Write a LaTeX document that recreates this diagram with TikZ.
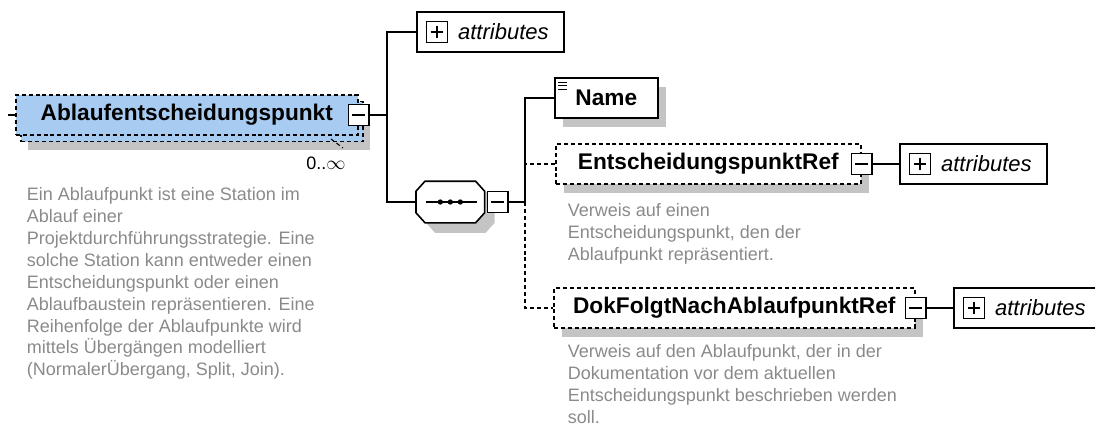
\documentclass[tikz,border=0pt]{standalone}
\usepackage{fontspec}
\setmainfont{Liberation Sans}
\usetikzlibrary{positioning, shadows, calc}
\definecolor{cblue}{HTML}{A8CBF2}
\definecolor{cgrey}{HTML}{8A8A8A}
\definecolor{cshadow}{HTML}{C4C4C4}
\tikzset{
  every picture/.style={line width=1.2pt},
  elem/.style={draw, fill=white, minimum height=30pt, inner sep=0pt, anchor=west,
    font=\fontsize{17}{20}\selectfont\bfseries},
  shadowed/.style={general shadow={fill=cshadow, shadow xshift=#1, shadow yshift=-#1}},
  shadowed/.default=6.5pt,
  optline/.style={dash pattern=on 3pt off 2.2pt},
  attrbox/.style={draw, fill=white, minimum width=110.25pt, minimum height=30pt, anchor=west},
  attrtext/.style={font=\fontsize{16.5}{20}\selectfont\itshape, inner sep=0pt},
  signbox/.style={draw, fill=white, minimum size=15.5pt, inner sep=0pt, line width=1pt},
  minusbox/.style={signbox, path picture={
    \draw[line width=1pt] ([xshift=3pt]path picture bounding box.west) -- ([xshift=-3pt]path picture bounding box.east);}},
  plusbox/.style={signbox, path picture={
    \draw[line width=1pt] ([xshift=3pt]path picture bounding box.west) -- ([xshift=-3pt]path picture bounding box.east);
    \draw[line width=1pt] ([yshift=-3pt]path picture bounding box.north) -- ([yshift=3pt]path picture bounding box.south);}},
  seqbox/.style={minimum width=50.25pt, minimum height=30pt, inner sep=0pt, anchor=west},
  note/.style={font=\fontsize{13.5}{16.4}\selectfont, text=cgrey, align=left, inner sep=0pt, anchor=north west},
}

\begin{document}
\begin{tikzpicture}[x=0.75pt, y=-0.75pt]
  \useasboundingbox (0,0) rectangle (1095,426);
  \clip (0,0) rectangle (1095,426);
  % root element (0..unbounded)
  \node[elem, optline, fill=cblue, minimum width=256.5pt,
    general shadow={fill=cshadow, shadow xshift=9.5pt, shadow yshift=-11pt},
    general shadow={fill=cblue, draw, shadow xshift=4pt, shadow yshift=-5pt}] (root) at (15,115) {Ablaufentscheidungspunkt};
  \node[minusbox] (rmin) at (root.east) {};
  \draw[optline, line width=0.8pt] (331,139) -- (343,148);
  \node[font=\fontsize{13.5}{16}\selectfont, inner sep=0pt] (mult) at (326,163) {0..$\infty$};
  \node[note] (rootdoc) at (26,187) {Ein Ablaufpunkt ist eine Station im\\Ablauf einer\\Projektdurchführungsstrategie. Eine\\solche Station kann entweder einen\\Entscheidungspunkt oder einen\\Ablaufbaustein repräsentieren. Eine\\Reihenfolge der Ablaufpunkte wird\\mittels Übergängen modelliert\\(NormalerÜbergang, Split, Join).};
  \coordinate (rin) at (8,115);
  \coordinate (j1) at (387,115);
  % attributes of root
  \node[attrbox] (attr1) at (416,32) {};
  \node[plusbox] (attr1p) at ([xshift=15.75pt]attr1.west) {};
  \node[attrtext, right=7pt of attr1p] (attr1t) {attributes};
  % sequence
  \node[seqbox] (seq) at (416,202) {};
  \draw[fill=white, shadowed=7.5pt] ([shift={(9,0)}]seq.north west) -- ([shift={(-9,0)}]seq.north east)
    -- ([shift={(0,10)}]seq.north east) -- ([shift={(0,-10)}]seq.south east)
    -- ([shift={(-9,0)}]seq.south east) -- ([shift={(9,0)}]seq.south west)
    -- ([shift={(0,-10)}]seq.south west) -- ([shift={(0,10)}]seq.north west) -- cycle;
  \draw ([xshift=7.5pt]seq.west) -- ([xshift=-6pt]seq.east);
  \foreach \dx in {-7.5pt,0pt,7.5pt}
    \fill ([xshift=\dx]seq.center) circle (2pt);
  \node[minusbox, right=1.5pt of seq] (smin) {};
  \coordinate (j2) at (525,202);
  % children
  \node[elem, shadowed, minimum width=77.25pt] (name) at (554,98) {Name};
  \foreach \dy in {5,8.5,12}
    \draw[line width=0.8pt] ([shift={(4,\dy)}]name.north west) -- ++(9,0);
  \node[elem, optline, shadowed, minimum width=228.75pt] (entsch) at (555,164) {EntscheidungspunktRef};
  \node[minusbox] (emin) at (entsch.east) {};
  \node[note] (entschdoc) at (567,203) {Verweis auf einen\\Entscheidungspunkt, den der\\Ablaufpunkt repräsentiert.};
  \node[attrbox] (attr2) at (899,164) {};
  \node[plusbox] (attr2p) at ([xshift=15.75pt]attr2.west) {};
  \node[attrtext, right=7pt of attr2p] (attr2t) {attributes};
  \node[elem, optline, shadowed, minimum width=270.75pt] (dok) at (553,308) {DokFolgtNachAblaufpunktRef};
  \node[minusbox] (dmin) at (dok.east) {};
  \node[note] (dokdoc) at (567,344) {Verweis auf den Ablaufpunkt, der in der\\Dokumentation vor dem aktuellen\\Entscheidungspunkt beschrieben werden\\soll.};
  \node[attrbox] (attr3) at (953,308) {};
  \node[plusbox] (attr3p) at ([xshift=15.75pt]attr3.west) {};
  \node[attrtext, right=7pt of attr3p] (attr3t) {attributes};
  % connectors
  \draw (rin) -- (root.west);
  \draw (rmin.east) -- (j1);
  \draw (attr1.west) -| (j1) |- (seq.west);
  \draw (smin.east) -- (j2);
  \draw (name.west) -| (j2);
  \draw[optline] (entsch.west) -| (j2);
  \draw[optline] (j2) |- (dok.west);
  \draw (emin.east) -- (attr2.west);
  \draw (dmin.east) -- (attr3.west);
\end{tikzpicture}
\end{document}
